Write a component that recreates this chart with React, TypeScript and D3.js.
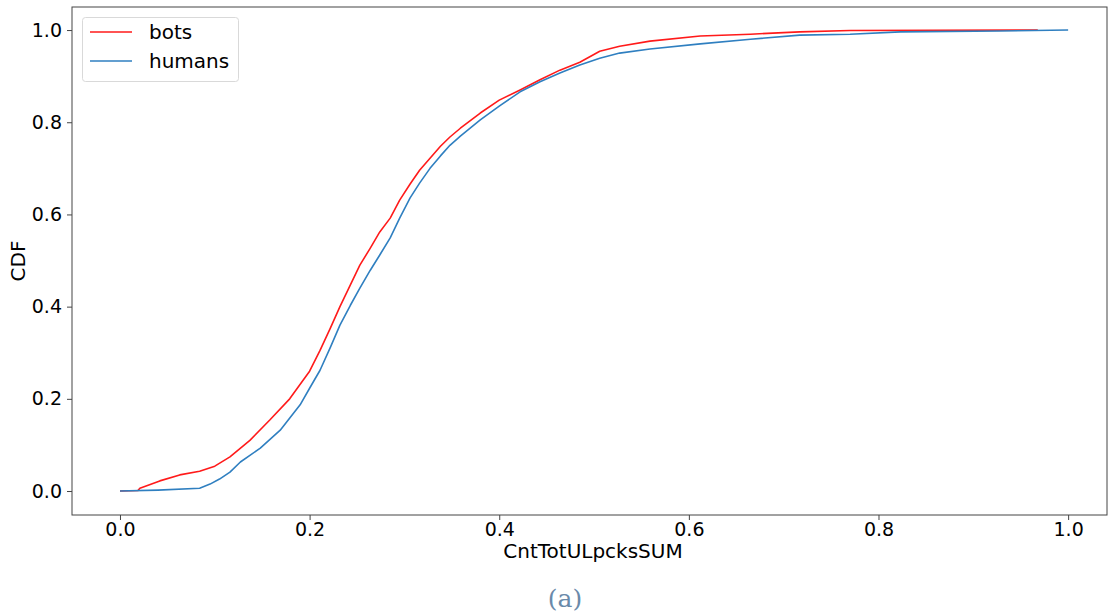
import { useEffect, useRef } from 'react';
import * as d3 from 'd3';

// CDF values (x = CntTotULpcksSUM, y = CDF)
const botsX = [0, 0.019, 0.021, 0.042, 0.063, 0.084, 0.1, 0.116, 0.137, 0.158, 0.179, 0.2, 0.211, 0.222, 0.232, 0.243, 0.253, 0.264, 0.274, 0.285, 0.295, 0.306, 0.316, 0.327, 0.338, 0.348, 0.359, 0.38, 0.4, 0.422, 0.443, 0.464, 0.485, 0.506, 0.527, 0.559, 0.612, 0.665, 0.717, 0.77, 0.968];
const botsY = [0, 0.001, 0.006, 0.022, 0.035, 0.043, 0.054, 0.074, 0.11, 0.154, 0.2, 0.26, 0.305, 0.354, 0.4, 0.447, 0.49, 0.527, 0.562, 0.592, 0.631, 0.666, 0.696, 0.722, 0.748, 0.768, 0.787, 0.82, 0.848, 0.87, 0.892, 0.913, 0.93, 0.954, 0.965, 0.976, 0.987, 0.991, 0.996, 0.999, 1.0];

const humansX = [0, 0.04, 0.084, 0.095, 0.105, 0.116, 0.127, 0.148, 0.169, 0.19, 0.2, 0.211, 0.222, 0.232, 0.243, 0.253, 0.264, 0.274, 0.285, 0.295, 0.306, 0.316, 0.327, 0.338, 0.348, 0.359, 0.38, 0.4, 0.422, 0.443, 0.464, 0.485, 0.506, 0.527, 0.559, 0.612, 0.665, 0.717, 0.77, 0.823, 0.928, 1.0];
const humansY = [0, 0.002, 0.006, 0.015, 0.026, 0.041, 0.063, 0.093, 0.132, 0.187, 0.223, 0.262, 0.312, 0.36, 0.403, 0.44, 0.479, 0.512, 0.549, 0.592, 0.636, 0.668, 0.7, 0.727, 0.75, 0.77, 0.805, 0.835, 0.866, 0.888, 0.907, 0.924, 0.939, 0.95, 0.959, 0.97, 0.98, 0.989, 0.991, 0.996, 0.998, 1.0];

const ticks = [0, 0.2, 0.4, 0.6, 0.8, 1.0];

const series = [
  { name: 'bots', xs: botsX, ys: botsY, color: '#ff1a1a' },
  { name: 'humans', xs: humansX, ys: humansY, color: '#2f7fc0' },
];

export default function App() {
  const svgRef = useRef<SVGSVGElement | null>(null);

  useEffect(() => {
    if (!svgRef.current) return;
    const svg = d3.select(svgRef.current);
    svg.selectAll('*').remove();

    const width = 1108;
    const height = 615;
    const left = 72;
    const right = 1107;
    const top = 7;
    const bottom = 515;
    const font = 'DejaVu Sans, sans-serif';

    const x = d3.scaleLinear().domain([-0.0506, 1.041]).range([left, right]);
    const y = d3.scaleLinear().domain([-0.052, 1.05]).range([bottom, top]);

    svg.attr('width', width).attr('height', height);

    svg.append('rect').attr('width', width).attr('height', height).attr('fill', 'white');

    // Lines
    const line = d3
      .line<[number, number]>()
      .x((d) => x(d[0]))
      .y((d) => y(d[1]));

    series.forEach((s) => {
      const pts = s.xs.map((v, i) => [v, s.ys[i]] as [number, number]);
      svg
        .append('path')
        .datum(pts)
        .attr('fill', 'none')
        .attr('stroke', s.color)
        .attr('stroke-width', 1.6)
        .attr('stroke-linejoin', 'round')
        .attr('d', line);
    });

    // Frame
    svg
      .append('rect')
      .attr('x', left)
      .attr('y', top)
      .attr('width', right - left)
      .attr('height', bottom - top)
      .attr('fill', 'none')
      .attr('stroke', '#444')
      .attr('stroke-width', 1);

    // Axes
    const xAxis = svg
      .append('g')
      .attr('transform', `translate(0,${bottom})`)
      .call(d3.axisBottom(x).tickValues(ticks).tickFormat(d3.format('.1f')).tickSizeOuter(0).tickSize(5).tickPadding(3));
    xAxis.select('.domain').remove();
    xAxis.selectAll('line').attr('stroke', '#444');
    xAxis.selectAll('text').attr('font-size', '19px').attr('font-family', font).attr('fill', '#000');

    const yAxis = svg
      .append('g')
      .attr('transform', `translate(${left},0)`)
      .call(d3.axisLeft(y).tickValues(ticks).tickFormat(d3.format('.1f')).tickSizeOuter(0).tickSize(5).tickPadding(5));
    yAxis.select('.domain').remove();
    yAxis.selectAll('line').attr('stroke', '#444');
    yAxis.selectAll('text').attr('font-size', '19px').attr('font-family', font).attr('fill', '#000');

    // Axis labels
    svg
      .append('text')
      .attr('x', 593)
      .attr('y', 558)
      .attr('text-anchor', 'middle')
      .attr('font-size', '20px')
      .attr('font-family', font)
      .text('CntTotULpcksSUM');

    svg
      .append('text')
      .attr('transform', `translate(25,${(top + bottom) / 2}) rotate(-90)`)
      .attr('text-anchor', 'middle')
      .attr('font-size', '20px')
      .attr('font-family', font)
      .text('CDF');

    // Legend
    const lg = svg.append('g');
    lg.append('rect')
      .attr('x', 82.5)
      .attr('y', 17.5)
      .attr('width', 156)
      .attr('height', 64)
      .attr('rx', 3)
      .attr('fill', 'white')
      .attr('stroke', '#d9d9d9');
    series.forEach((s, i) => {
      const ly = 32 + i * 29;
      lg.append('line')
        .attr('x1', 90)
        .attr('x2', 132)
        .attr('y1', ly)
        .attr('y2', ly)
        .attr('stroke', s.color)
        .attr('stroke-width', 1.6);
      lg.append('text')
        .attr('x', 149)
        .attr('y', ly + 7)
        .attr('font-size', '20px')
        .attr('font-family', font)
        .text(s.name);
    });

    // Caption
    svg
      .append('text')
      .attr('x', 565)
      .attr('y', 607)
      .attr('text-anchor', 'middle')
      .attr('font-size', '25px')
      .attr('font-family', 'DejaVu Serif, serif')
      .attr('fill', '#6a8aaa')
      .text('(a)');
  }, []);

  return <svg ref={svgRef} style={{ position: 'absolute', left: 0, top: 0 }}></svg>;
}
